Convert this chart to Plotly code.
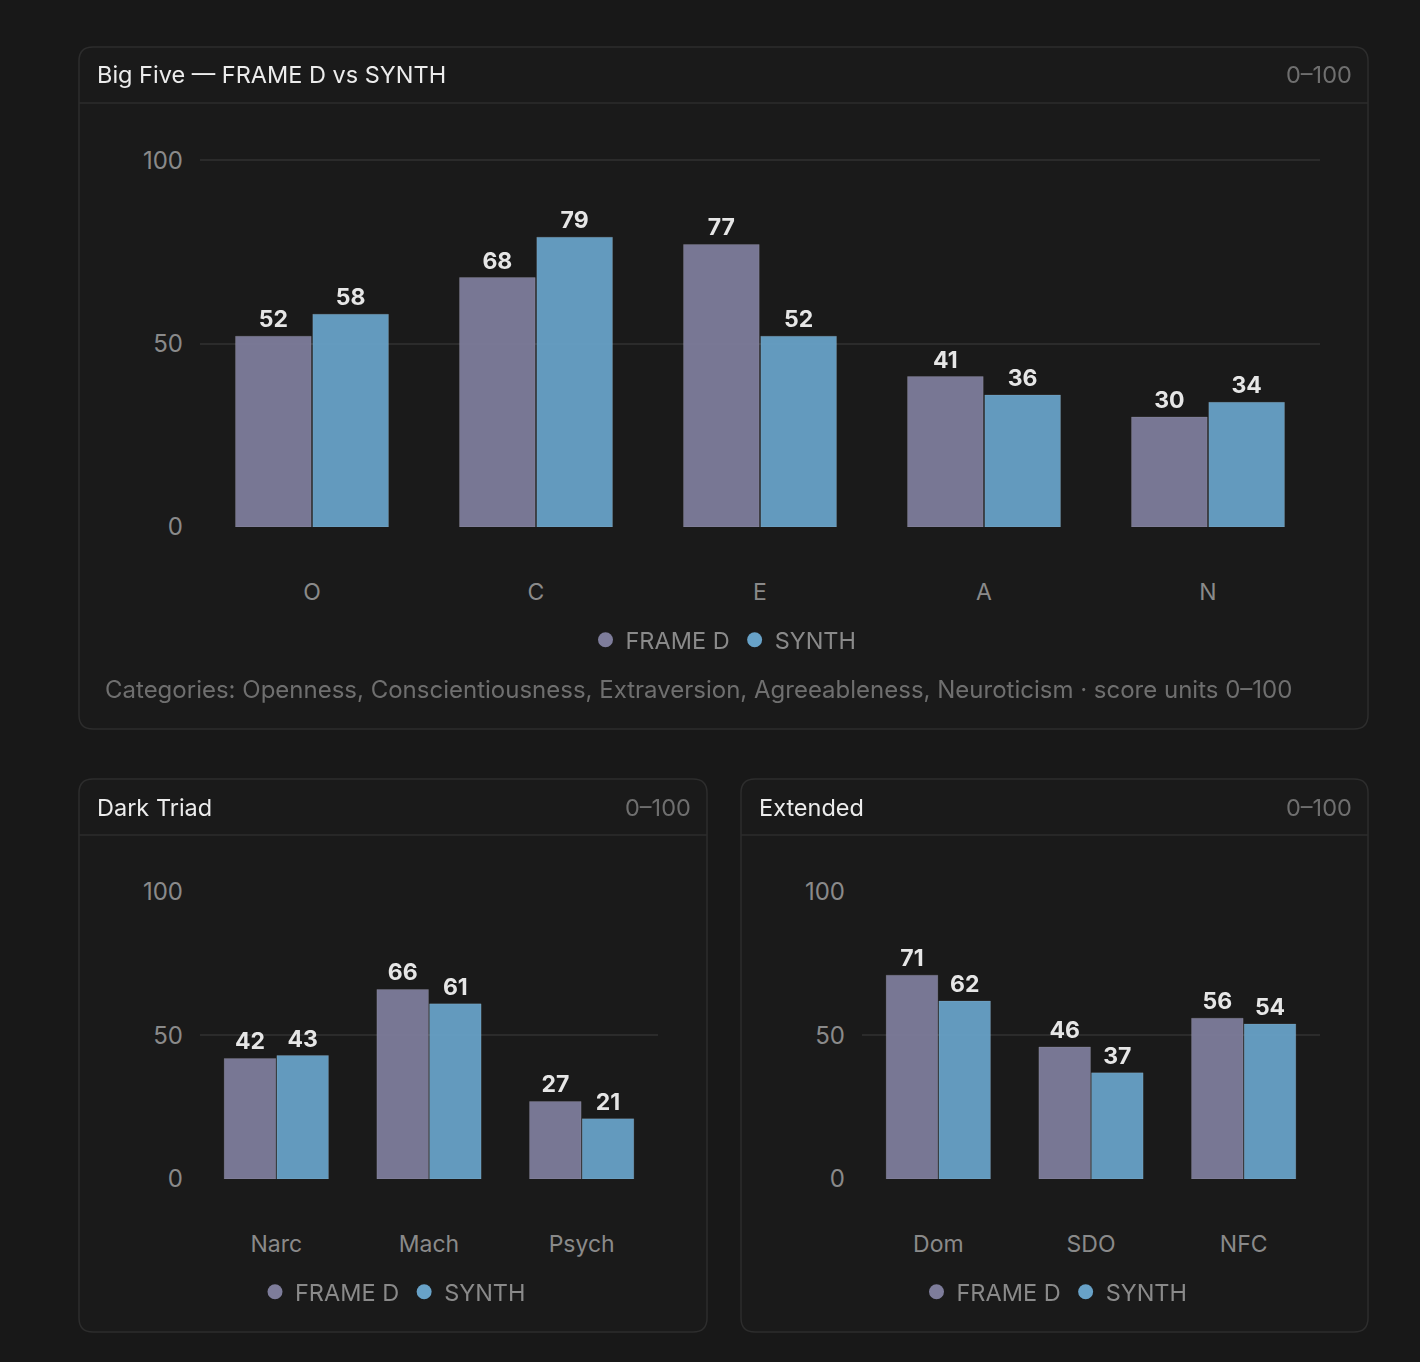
import plotly.graph_objects as go

# data
big5_cats = ["O", "C", "E", "A", "N"]
big5_frame = [52, 68, 77, 41, 30]
big5_synth = [58, 79, 52, 36, 34]

dark_cats = ["Narc", "Mach", "Psych"]
dark_frame = [42, 66, 27]
dark_synth = [43, 61, 21]

ext_cats = ["Dom", "SDO", "NFC"]
ext_frame = [71, 46, 56]
ext_synth = [62, 37, 54]

W, H = 1420, 1362
BG = "#181818"
PANEL = "#1a1a1a"
BORDER = "#2d2d2d"
GRID = "#2b2b2b"
C_FRAME = "#7e7d9b"
C_SYNTH = "#68a2c8"
MUTED = "#8a8a8a"
FONT = "Inter, Noto Sans, sans-serif"


def px_x(v):
    return v / W


def px_y(v):
    return 1 - v / H


fig = go.Figure()

charts = [
    # cats, frame, synth, axis suffix, plot x px, plot y px (top, bottom), legend, legend y, panel centre
    (big5_cats, big5_frame, big5_synth, "", (200, 1320), (159, 527), "legend", 640, 723.5),
    (dark_cats, dark_frame, dark_synth, "2", (200, 658), (891, 1179), "legend2", 1292, 393),
    (ext_cats, ext_frame, ext_synth, "3", (862, 1320), (891, 1179), "legend3", 1292, 1054.5),
]

for cats, fr, sy, ax, (x0, x1), (yt, yb), leg, legy, cx in charts:
    for name, vals, col in [("FRAME D", fr, C_FRAME), ("SYNTH", sy, C_SYNTH)]:
        fig.add_trace(go.Bar(
            x=cats, y=vals, name=name, xaxis="x" + ax, yaxis="y" + ax,
            marker=dict(color=col, line=dict(color="rgba(255,255,255,0.12)", width=1)),
            opacity=0.95, showlegend=False,
            text=vals, textposition="outside", cliponaxis=False,
            textfont=dict(color="#f2f2f2", size=23, family=FONT, weight="bold"),
        ))
        # circle legend entries
        fig.add_trace(go.Scatter(
            x=[None], y=[None], mode="markers", name=name, legend=leg,
            xaxis="x" + ax, yaxis="y" + ax,
            marker=dict(color=col, size=15, symbol="circle"),
        ))
    fig.layout["xaxis" + ax] = dict(
        domain=[px_x(x0), px_x(x1)], anchor="y" + ax, showgrid=False,
        showline=False, zeroline=False, ticks="", ticklabelstandoff=49,
        tickfont=dict(color=MUTED, size=23, family=FONT), fixedrange=True,
    )
    fig.layout["yaxis" + ax] = dict(
        domain=[px_y(yb), px_y(yt)], anchor="x" + ax, range=[0, 100.3],
        tickvals=[0, 50, 100], showgrid=True, gridcolor=GRID, gridwidth=1.5,
        zeroline=False, showline=False, ticks="", ticklabelstandoff=16,
        tickfont=dict(color=MUTED, size=24, family=FONT), fixedrange=True,
    )
    fig.layout[leg] = dict(
        orientation="h", x=px_x(cx), xanchor="center",
        y=px_y(legy), yanchor="middle", bgcolor="rgba(0,0,0,0)",
        font=dict(color=MUTED, size=23.5, family=FONT),
        itemwidth=30, tracegroupgap=0,
    )


def rounded_rect(x0, y0, x1, y1, r=14):
    X0, X1 = px_x(x0), px_x(x1)
    Y0, Y1 = px_y(y0), px_y(y1)
    rx, ry = r / W, r / H
    return (f"M {X0 + rx},{Y0} L {X1 - rx},{Y0} Q {X1},{Y0} {X1},{Y0 - ry} "
            f"L {X1},{Y1 + ry} Q {X1},{Y1} {X1 - rx},{Y1} L {X0 + rx},{Y1} "
            f"Q {X0},{Y1} {X0},{Y1 + ry} L {X0},{Y0 - ry} Q {X0},{Y0} {X0 + rx},{Y0} Z")


panels = [
    ("Big Five — FRAME D vs SYNTH", 79, 47, 1368, 729, 103),
    ("Dark Triad", 79, 779, 707, 1332, 835),
    ("Extended", 741, 779, 1368, 1332, 835),
]

shapes = []
annotations = []
for title, x0, y0, x1, y1, sep in panels:
    shapes.append(dict(type="path", path=rounded_rect(x0, y0, x1, y1), xref="paper", yref="paper",
                       fillcolor=PANEL, line=dict(color=BORDER, width=1.5), layer="below"))
    shapes.append(dict(type="line", xref="paper", yref="paper", x0=px_x(x0), x1=px_x(x1),
                       y0=px_y(sep), y1=px_y(sep), line=dict(color=BORDER, width=1.5), layer="below"))
    annotations.append(dict(text=title, x=px_x(x0 + 16), y=px_y((y0 + sep) / 2), xref="paper", yref="paper",
                            xanchor="left", yanchor="middle", showarrow=False,
                            font=dict(color="#ececec", size=23.5, family=FONT)))
    annotations.append(dict(text="0–100", x=px_x(x1 - 14), y=px_y((y0 + sep) / 2), xref="paper", yref="paper",
                            xanchor="right", yanchor="middle", showarrow=False,
                            font=dict(color="#6f6f6f", size=23.5, family=FONT)))

annotations.append(dict(
    text="Categories: Openness, Conscientiousness, Extraversion, Agreeableness, Neuroticism · score units 0–100",
    x=px_x(103), y=px_y(689), xref="paper", yref="paper", xanchor="left", yanchor="middle",
    showarrow=False, font=dict(color="#6f6f6f", size=24, family=FONT)))

fig.update_layout(
    width=W, height=H, margin=dict(l=0, r=0, t=0, b=0, autoexpand=False),
    paper_bgcolor=BG, plot_bgcolor="rgba(0,0,0,0)",
    barmode="group", bargap=0.31, bargroupgap=0.02,
    shapes=shapes, annotations=annotations,
    font=dict(family=FONT),
)

fig.write_html("out.html", config={"displayModeBar": False},
               post_script="document.body.style.margin='0';document.body.style.background='#181818';")
